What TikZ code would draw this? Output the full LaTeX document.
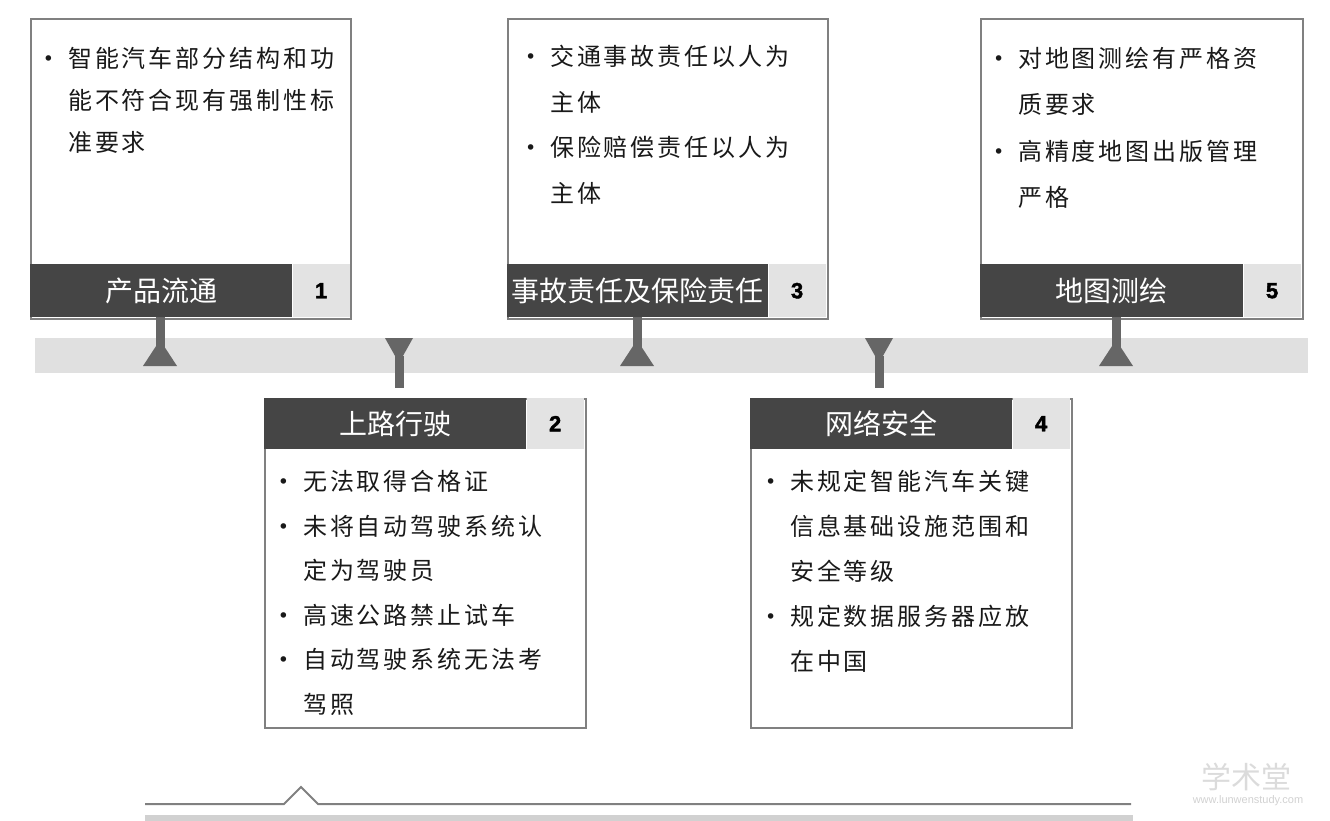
\documentclass[tikz,border=0pt]{standalone}
\usepackage{fontspec}
\setmainfont{Noto Sans CJK SC}
\newfontfamily\bodyfont[LetterSpace=12]{Noto Sans CJK SC}
\newfontfamily\numfont[BoldFeatures={FakeBold=2}]{Liberation Sans}
\newfontfamily\dotfont{DejaVu Sans}
\usepackage{tikz}
\usetikzlibrary{positioning}

\newcommand{\bul}{\llap{\raisebox{2pt}{\dotfont\fontsize{19}{19}\selectfont •}\hspace{14pt}}}

\begin{document}
\begin{tikzpicture}[x=1pt, y=-1pt,
    card/.style={draw=black!50, line width=2pt, fill=white, inner sep=0pt, anchor=north west},
    header/.style={fill=black!73, text=white, font=\fontsize{28}{28}\selectfont, minimum width=262pt, minimum height=53pt, inner sep=0pt, anchor=north west},
    numbox/.style={fill=black!11, font=\numfont\bfseries\fontsize{22}{22}\selectfont, minimum width=57pt, minimum height=53pt, inner sep=0pt},
    bodytext/.style={font=\bodyfont\fontsize{24}{#1}\selectfont, align=left, inner sep=0pt, anchor=north west, text=black!90},
    stem/.style={draw=black!60, line width=9pt},
    pointer/.style={fill=black!60},
    band/.style={fill=black!12, minimum width=1273pt, minimum height=35pt, inner sep=0pt}]
    \useasboundingbox (0,0) rectangle (1330,821);

    % Band
    \node[band] (band) at (671.5,355.5) {};

    % Cards
    \node[card, minimum width=320pt, minimum height=300pt] (card1) at (30,18) {};
    \node[card, minimum width=321pt, minimum height=329pt] (card2) at (264,398) {};
    \node[card, minimum width=320pt, minimum height=300pt] (card3) at (507,18) {};
    \node[card, minimum width=321pt, minimum height=329pt] (card4) at (750,398) {};
    \node[card, minimum width=322pt, minimum height=300pt] (card5) at (980,18) {};

    % Headers
    \node[header] (head1) at (30,264) {产品流通};
    \node[numbox, right=0pt of head1] (num1) {1};
    \node[header, minimum height=51pt] (head2) at (264,398) {上路行驶};
    \node[numbox, minimum height=51pt, right=0pt of head2] (num2) {2};
    \node[header, minimum width=261pt] (head3) at (507,264) {事故责任及保险责任};
    \node[numbox, right=0pt of head3] (num3) {3};
    \node[header, minimum height=51pt] (head4) at (750,398) {网络安全};
    \node[numbox, minimum height=51pt, right=0pt of head4] (num4) {4};
    \node[header, minimum width=263pt] (head5) at (980,264) {地图测绘};
    \node[numbox, right=0pt of head5] (num5) {5};

    % Texts
    \node[bodytext=42] (txt1) at (68,47) {\bul 智能汽车部分结构和功\\能不符合现有强制性标\\准要求};
    \node[bodytext=44.6] (txt2) at (303,470) {\bul 无法取得合格证\\\bul 未将自动驾驶系统认\\定为驾驶员\\\bul 高速公路禁止试车\\\bul 自动驾驶系统无法考\\驾照};
    \node[bodytext=45.5] (txt3) at (550,45) {\bul 交通事故责任以人为\\主体\\\bul 保险赔偿责任以人为\\主体};
    \node[bodytext=45] (txt4) at (790,470) {\bul 未规定智能汽车关键\\信息基础设施范围和\\安全等级\\\bul 规定数据服务器应放\\在中国};
    \node[bodytext=46.5] (txt5) at (1018,47) {\bul 对地图测绘有严格资\\质要求\\\bul 高精度地图出版管理\\严格};

    % Markers
    \coordinate (m1) at (160,355.5);
    \coordinate (m2) at (399,355.5);
    \coordinate (m3) at (637,355.5);
    \coordinate (m4) at (879,355.5);
    \coordinate (m5) at (1116,355.5);

    % Edges
    \draw[stem] (head1.south -| m1) -- (m1);
    \draw[stem] (head3.south -| m3) -- (m3);
    \draw[stem] (head5.south -| m5) -- (m5);
    \draw[stem, shorten >=10pt] (m2) -- (head2.north -| m2);
    \draw[stem, shorten >=10pt] (m4) -- (head4.north -| m4);
    \fill[pointer] (m1) ++(-17,10.5) -- ++(34,0) -- ++(-17,-26) -- cycle;
    \fill[pointer] (m3) ++(-17,10.5) -- ++(34,0) -- ++(-17,-26) -- cycle;
    \fill[pointer] (m5) ++(-17,10.5) -- ++(34,0) -- ++(-17,-26) -- cycle;
    \fill[pointer] (m2) ++(-14,-17.5) -- ++(28,0) -- ++(-14,25) -- cycle;
    \fill[pointer] (m4) ++(-14,-17.5) -- ++(28,0) -- ++(-14,25) -- cycle;

    % Bottom rule
    \draw[black!50, line width=2pt] (145,804) -- (284,804) -- (301,787) -- (318,804) -- (1131,804);
    \fill[black!18] (145,815) rectangle (1133,821);

    % Watermark
    \node[text=black!14, font=\fontsize{30}{30}\selectfont, inner sep=0pt] (wm) at (1246,777) {学术堂};
    \node[text=black!18, font=\numfont\fontsize{11}{11}\selectfont, inner sep=0pt] (wmurl) at (1248,801) {www.lunwenstudy.com};
\end{tikzpicture}
\end{document}
